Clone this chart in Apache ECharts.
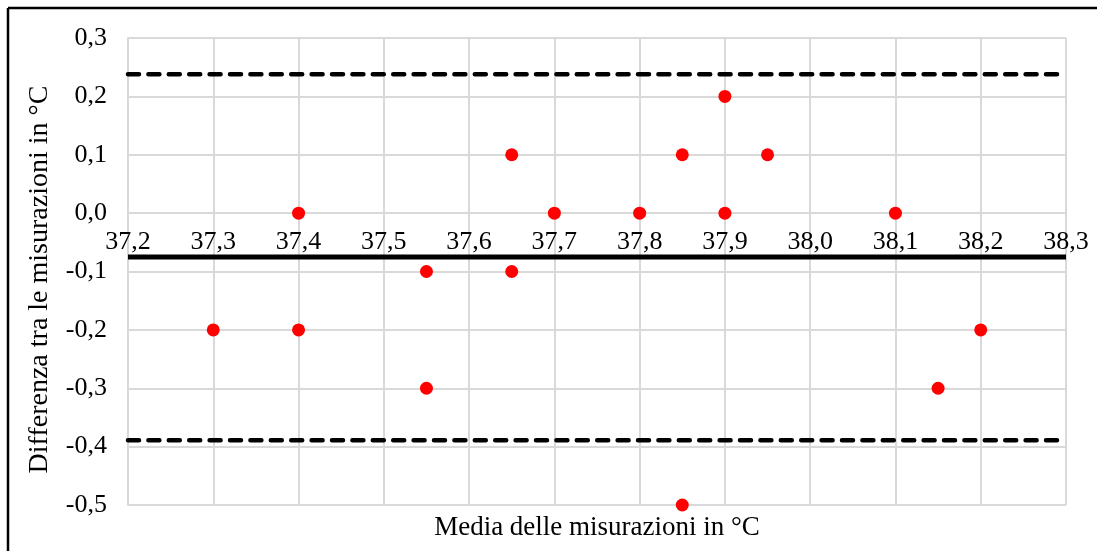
<!DOCTYPE html>
<html>
<head>
<meta charset="utf-8">
<script src="https://cdn.jsdelivr.net/npm/echarts@6/dist/echarts.min.js"></script>
<style>
html,body{margin:0;padding:0;background:#fff;}
#chart{width:1097px;height:551px;}
</style>
</head>
<body>
<div id="chart"></div>
<script>
// Bland-Altman data: mean of measurements (x) and difference (y)
const meanValues = [37.3, 37.4, 37.4, 37.55, 37.55, 37.65, 37.65, 37.7, 37.8, 37.85, 37.85, 37.9, 37.9, 37.95, 38.1, 38.15, 38.2];
const diffValues = [-0.2, 0.0, -0.2, -0.1, -0.3, 0.1, -0.1, 0.0, 0.0, 0.1, -0.5, 0.2, 0.0, 0.1, 0.0, -0.3, -0.2];
const biasLine = -0.075;
const upperLimit = 0.238;
const lowerLimit = -0.389;
const xRange = [37.2, 38.3];
const yRange = [-0.5, 0.3];
const xTitle = 'Media delle misurazioni in °C';
const yTitle = 'Differenza tra le misurazioni in °C';

const points = meanValues.map((x, i) => [x, diffValues[i]]);
const hLine = v => xRange.map(x => [x, v]);
const fmt = v => v.toFixed(1).replace('.', ',');
const FONT = '"Liberation Serif", "DejaVu Serif", serif';

const GRID = {left: 128, right: 31, top: 38, bottom: 46};
const H = 551;
const plotH = H - GRID.top - GRID.bottom;
// pixel distance from the bottom of the plot to the y = 0 line (x axis crosses at zero)
const zeroLift = plotH * (0 - yRange[0]) / (yRange[1] - yRange[0]);

const chart = echarts.init(document.getElementById('chart'), null, {renderer: 'canvas'});
chart.setOption({
  animation: false,
  backgroundColor: '#fff',
  grid: Object.assign({containLabel: false, outerBoundsMode: 'none'}, GRID),
  xAxis: {
    type: 'value',
    min: xRange[0], max: xRange[1], interval: 0.1,
    offset: -zeroLift,
    axisLine: {onZero: false, lineStyle: {color: '#D9D9D9', width: 2}},
    axisTick: {show: false},
    axisLabel: {formatter: v => fmt(v), color: '#000', fontFamily: FONT, fontSize: 26, margin: 16,
      showMinLabel: true, showMaxLabel: true},
    splitLine: {show: true, lineStyle: {color: '#D9D9D9', width: 2}},
    name: xTitle, nameLocation: 'middle', nameGap: 301,
    nameTextStyle: {color: '#000', fontFamily: FONT, fontSize: 27}
  },
  yAxis: {
    type: 'value',
    min: yRange[0], max: yRange[1], interval: 0.1,
    axisLine: {show: true, lineStyle: {color: '#D9D9D9', width: 2}},
    axisTick: {show: false},
    axisLabel: {formatter: v => fmt(v), color: '#000', fontFamily: FONT, fontSize: 26, margin: 21},
    splitLine: {show: true, lineStyle: {color: '#D9D9D9', width: 2}},
    name: yTitle, nameLocation: 'middle', nameGap: 74, nameRotate: 90,
    nameTextStyle: {color: '#000', fontFamily: FONT, fontSize: 28, padding: [0, 16, 0, 0]}
  },
  graphic: [
    {type: 'line', shape: {x1: 8, y1: 8, x2: 1097, y2: 8}, style: {stroke: '#000', lineWidth: 2.5}},
    {type: 'line', shape: {x1: 8, y1: 8, x2: 8, y2: 551}, style: {stroke: '#000', lineWidth: 2.5}}
  ],
  series: [
    {type: 'line', data: hLine(upperLimit), symbol: 'none', silent: true, z: 3,
      lineStyle: {color: '#000', width: 4.5, type: [11, 9.4], cap: 'round'}},
    {type: 'line', data: hLine(lowerLimit), symbol: 'none', silent: true, z: 3,
      lineStyle: {color: '#000', width: 4.5, type: [11, 9.4], cap: 'round'}},
    {type: 'line', data: hLine(biasLine), symbol: 'none', silent: true, z: 3,
      lineStyle: {color: '#000', width: 5, type: 'solid'}},
    {type: 'scatter', data: points, symbol: 'circle', symbolSize: 13, clip: false, z: 5,
      itemStyle: {color: '#FF0000', opacity: 1}}
  ]
});
</script>
</body>
</html>
